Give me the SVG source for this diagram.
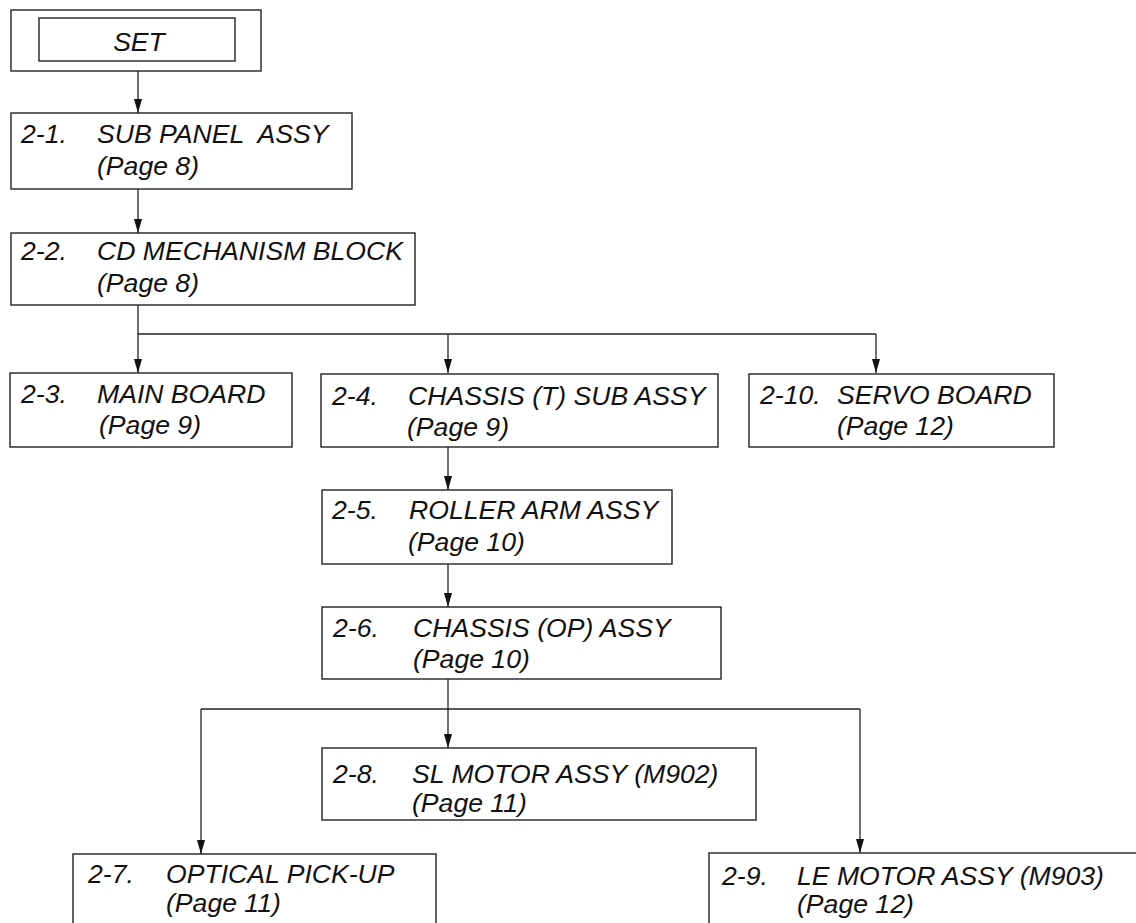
<svg xmlns="http://www.w3.org/2000/svg" width="1136" height="923" viewBox="0 0 1136 923">
<style>
.box{fill:#fff;stroke:#222;stroke-width:1.4}
.t{font-family:"Liberation Sans",Arial,sans-serif;font-style:italic;font-size:26.6px;fill:#111}
.c{fill:none;stroke:#222;stroke-width:1.3}
</style>
<defs>
<marker id="ah" markerUnits="userSpaceOnUse" markerWidth="14" markerHeight="9" refX="14" refY="4.5" orient="auto">
<path d="M0,0.5 L14,4.5 L0,8.5 z" fill="#111"/>
</marker>
</defs>
<rect width="1136" height="923" fill="#fff"/>
<g id="connectors">
<line class="c" x1="138" y1="71" x2="138" y2="113" marker-end="url(#ah)"/>
<line class="c" x1="138" y1="189" x2="138" y2="233" marker-end="url(#ah)"/>
<line class="c" x1="138" y1="305" x2="138" y2="373" marker-end="url(#ah)"/>
<line class="c" x1="138" y1="334" x2="876" y2="334"/>
<line class="c" x1="448" y1="334" x2="448" y2="373" marker-end="url(#ah)"/>
<line class="c" x1="876" y1="334" x2="876" y2="373" marker-end="url(#ah)"/>
<line class="c" x1="448" y1="447" x2="448" y2="490" marker-end="url(#ah)"/>
<line class="c" x1="448" y1="564" x2="448" y2="607" marker-end="url(#ah)"/>
<line class="c" x1="448" y1="679" x2="448" y2="748" marker-end="url(#ah)"/>
<line class="c" x1="201" y1="709" x2="860" y2="709"/>
<line class="c" x1="201" y1="709" x2="201" y2="854" marker-end="url(#ah)"/>
<line class="c" x1="860" y1="709" x2="860" y2="853" marker-end="url(#ah)"/>
</g>
<g id="set">
<rect class="box" x="11" y="10" width="250" height="61"/>
<rect class="box" x="39" y="18" width="196" height="43"/>
<text class="t" x="139" y="51" text-anchor="middle">SET</text>
</g>
<g id="n2-1">
<rect class="box" x="11" y="113" width="341" height="76"/>
<text class="t" x="21" y="143">2-1.</text>
<text class="t" x="97" y="143" xml:space="preserve">SUB PANEL  ASSY</text>
<text class="t" x="97" y="175">(Page 8)</text>
</g>
<g id="n2-2">
<rect class="box" x="11" y="233" width="404" height="72"/>
<text class="t" x="21" y="260">2-2.</text>
<text class="t" x="97" y="260">CD MECHANISM BLOCK</text>
<text class="t" x="97" y="292">(Page 8)</text>
</g>
<g id="n2-3">
<rect class="box" x="10" y="373" width="282" height="74"/>
<text class="t" x="21" y="403">2-3.</text>
<text class="t" x="97" y="403">MAIN BOARD</text>
<text class="t" x="99" y="434">(Page 9)</text>
</g>
<g id="n2-4">
<rect class="box" x="321" y="374" width="397" height="73"/>
<text class="t" x="332" y="405">2-4.</text>
<text class="t" x="408" y="405">CHASSIS (T) SUB ASSY</text>
<text class="t" x="407" y="436">(Page 9)</text>
</g>
<g id="n2-10">
<rect class="box" x="749" y="374" width="305" height="73"/>
<text class="t" x="760" y="404">2-10.</text>
<text class="t" x="837" y="404">SERVO BOARD</text>
<text class="t" x="837" y="435">(Page 12)</text>
</g>
<g id="n2-5">
<rect class="box" x="322" y="490" width="350" height="74"/>
<text class="t" x="332" y="519">2-5.</text>
<text class="t" x="409" y="519">ROLLER ARM ASSY</text>
<text class="t" x="408" y="551">(Page 10)</text>
</g>
<g id="n2-6">
<rect class="box" x="322" y="607" width="399" height="72"/>
<text class="t" x="333" y="637">2-6.</text>
<text class="t" x="413" y="637">CHASSIS (OP) ASSY</text>
<text class="t" x="413" y="668">(Page 10)</text>
</g>
<g id="n2-8">
<rect class="box" x="322" y="748" width="434" height="72"/>
<text class="t" x="333" y="783">2-8.</text>
<text class="t" x="412" y="783">SL MOTOR ASSY (M902)</text>
<text class="t" x="412" y="812">(Page 11)</text>
</g>
<g id="n2-7">
<rect class="box" x="73" y="854" width="363" height="100"/>
<text class="t" x="88" y="883">2-7.</text>
<text class="t" x="166" y="883">OPTICAL PICK-UP</text>
<text class="t" x="166" y="912">(Page 11)</text>
</g>
<g id="n2-9">
<rect class="box" x="709" y="853" width="440" height="100"/>
<text class="t" x="722" y="885">2-9.</text>
<text class="t" x="797" y="885">LE MOTOR ASSY (M903)</text>
<text class="t" x="797" y="913">(Page 12)</text>
</g>
</svg>
